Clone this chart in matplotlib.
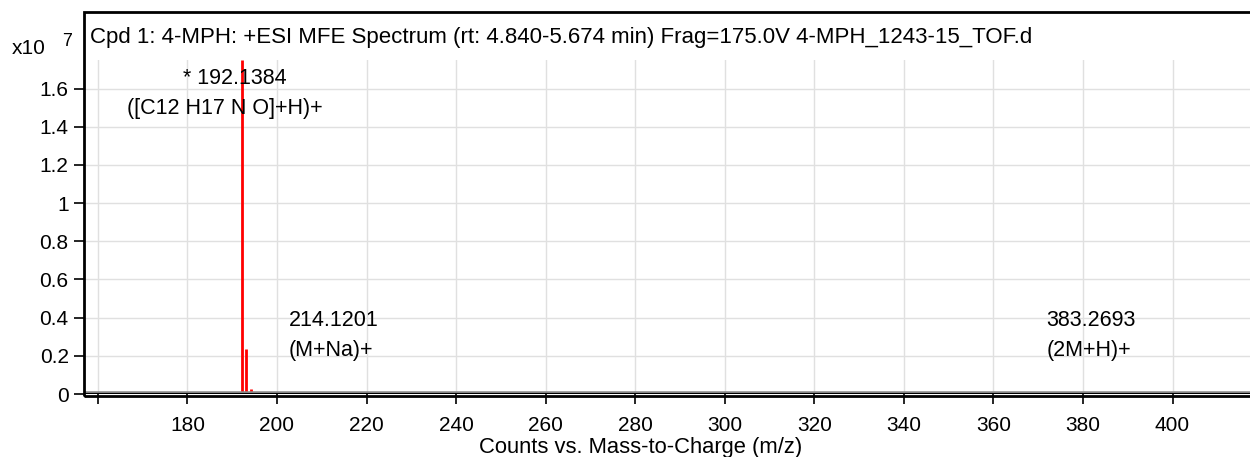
import matplotlib
matplotlib.use("Agg")
import matplotlib.pyplot as plt
from matplotlib.patches import Rectangle

plt.rcParams['font.family'] = ['Liberation Sans', 'DejaVu Sans']

# spectrum peaks (m/z, counts x10^7)
red_mz = [192.1384, 193.14, 194.14]
red_int = [1.75, 0.235, 0.025]
black_mz = [195.6, 214.1201, 383.2693]
black_int = [0.006, 0.006, 0.006]

labels = [(192.1384, "* 192.1384", "([C12 H17 N O]+H)+"),
          (214.1201, "214.1201", "(M+Na)+"),
          (383.2693, "383.2693", "(2M+H)+")]

xticks = list(range(160, 401, 20))
yticks = [0, 0.2, 0.4, 0.6, 0.8, 1.0, 1.2, 1.4, 1.6]
ytick_labels = ["0", "0.2", "0.4", "0.6", "0.8", "1", "1.2", "1.4", "1.6"]
title = "Cpd 1: 4-MPH: +ESI MFE Spectrum (rt: 4.840-5.674 min) Frag=175.0V 4-MPH_1243-15_TOF.d"

W, H = 1250, 457
fig = plt.figure(figsize=(W / 100, H / 100), dpi=100)
left, right, top_plot, bottom = 84, 1250, 60, 394
ax = fig.add_axes([left / W, (H - bottom) / H, (right - left) / W, (bottom - top_plot) / H])
ax.set_xlim(156.9, 417.3)
ax.set_ylim(0, 1.75)
fs = 15.5

for s in ax.spines.values():
    s.set_visible(False)

ax.vlines(red_mz, 0, red_int, color="red", lw=2)
ax.vlines(black_mz, 0, black_int, color="black", lw=1)

ax.set_xticks(xticks)
ax.set_xticklabels([""] + [str(v) for v in xticks[1:]], fontsize=15)
ax.set_yticks(yticks)
ax.set_yticklabels(ytick_labels, fontsize=15)
ax.tick_params(axis="both", direction="out", length=7, width=1.2, color="black")
ax.tick_params(axis="x", pad=9)
ax.tick_params(axis="y", pad=4)
ax.grid(True, color="#e0e0e0", lw=1)
ax.set_axisbelow(True)
ax.set_xlabel("Counts vs. Mass-to-Charge (m/z)", fontsize=15.8)
ax.xaxis.set_label_coords((641 - left) / (right - left), -(447 - bottom) / (bottom - top_plot), transform=ax.transAxes)
ax.xaxis.label.set_va("center")

# baseline
ax.axhline(0, color="#888888", lw=4, zorder=3)
ax.axhline(0, color="black", lw=1.5, zorder=4)

# peak labels
ax.text(190.6, 1.654, labels[0][1], ha="center", va="center", fontsize=fs)
ax.text(188.4, 1.497, labels[0][2], ha="center", va="center", fontsize=fs)
for mz, a, b in labels[1:]:
    ax.text(mz - 11.5, 0.387, a, ha="left", va="center", fontsize=fs)
    ax.text(mz - 11.5, 0.23, b, ha="left", va="center", fontsize=fs)

# outer frame with title area
frame_top = 12
fig.add_artist(Rectangle((left / W, (H - 396) / H), (right - left) / W + 0.01, (396 - frame_top) / H,
                         transform=fig.transFigure, fill=False, ec="black", lw=2))
fig.text(90 / W, 1 - 37 / H, title, ha="left", va="center", fontsize=16)
fig.text(12 / W, 1 - 49 / H, "x10", ha="left", va="center", fontsize=15)
fig.text(62 / W, 1 - 42 / H, "7", ha="left", va="center", fontsize=13)

fig.savefig("out.png", dpi=100)
